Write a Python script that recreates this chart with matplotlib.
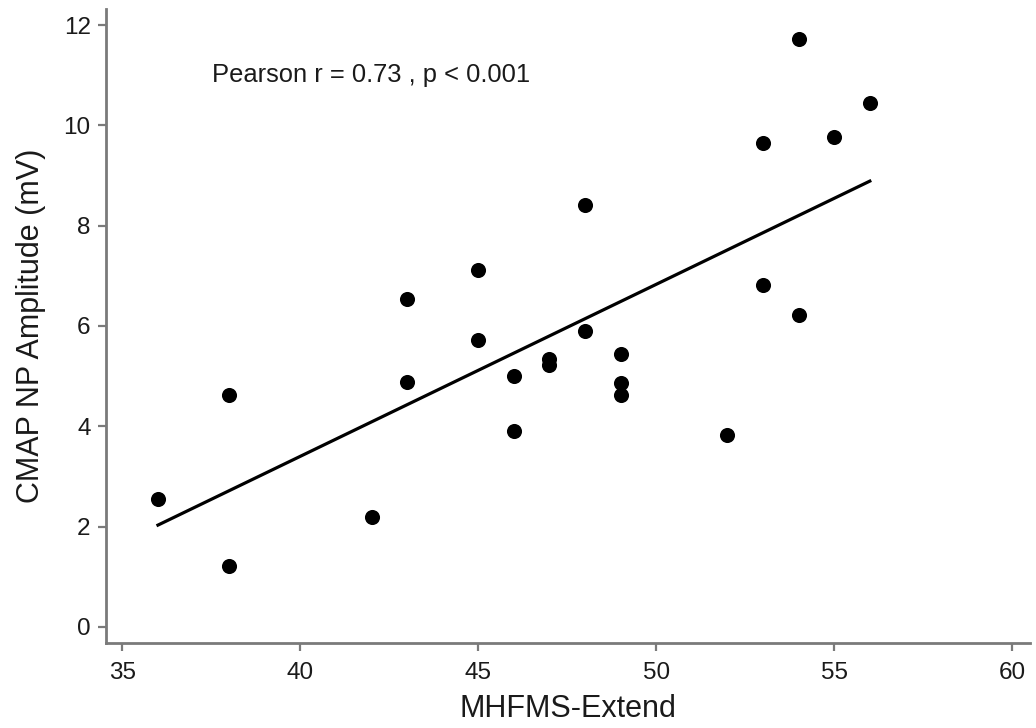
import numpy as np
import matplotlib
matplotlib.use("Agg")
import matplotlib.pyplot as plt

plt.rcParams['font.family'] = ['Liberation Sans', 'DejaVu Sans']

# Data
mhfms = [36, 38, 38, 42, 43, 43, 45, 45, 46, 46, 47, 47, 48, 48, 49, 49, 49,
         52, 53, 53, 54, 54, 55, 56]
cmap_amp = [2.55, 4.62, 1.22, 2.20, 6.53, 4.89, 7.12, 5.72, 5.01, 3.91, 5.34, 5.22,
            5.91, 8.41, 5.44, 4.86, 4.62, 3.82, 9.64, 6.81, 11.73, 6.22, 9.77, 10.44]
x_ticks = [35, 40, 45, 50, 55, 60]
y_ticks = [0, 2, 4, 6, 8, 10, 12]
annotation = "Pearson r = 0.73 , p < 0.001"
x_label = "MHFMS-Extend"
y_label = "CMAP NP Amplitude (mV)"

x = np.array(mhfms, dtype=float)
y = np.array(cmap_amp, dtype=float)
slope, intercept = np.polyfit(x, y, 1)
xf = np.array([x.min(), x.max()])

fig = plt.figure(figsize=(10.36, 7.28), dpi=100)
ax = fig.add_axes([0.1023, 0.1168, 0.8919, 0.8708])

ax.scatter(x, y, s=118, color='black', zorder=3, linewidths=0)
ax.plot(xf, intercept + slope * xf, color='black', lw=2.3, zorder=2)

ax.set_xlim(34.54, 60.5)
ax.set_ylim(-0.32, 12.32)
ax.set_xticks(x_ticks)
ax.set_yticks(y_ticks)

spine_c = '#7a7a7a'
for s in ['top', 'right']:
    ax.spines[s].set_visible(False)
for s in ['left', 'bottom']:
    ax.spines[s].set_color(spine_c)
    ax.spines[s].set_linewidth(2.0)
ax.tick_params(axis='both', direction='out', length=6, width=1.6, color=spine_c,
               labelsize=17.5, labelcolor='#1a1a1a')
ax.tick_params(axis='x', pad=8)
ax.tick_params(axis='y', pad=5)

ax.set_xlabel(x_label, fontsize=22, color='#1a1a1a', labelpad=7)
ax.set_ylabel(y_label, fontsize=22, color='#1a1a1a', labelpad=13)

ax.text(37.51, 11.0, annotation, fontsize=18.4, ha='left', va='center', color='#1a1a1a')

fig.savefig('out.png', dpi=100)
